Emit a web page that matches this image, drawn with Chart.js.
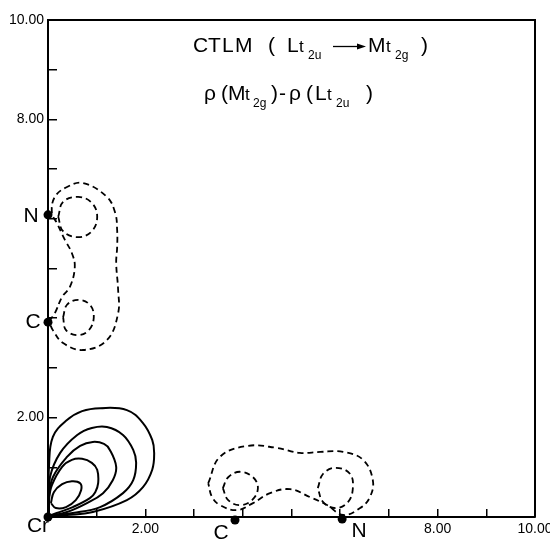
<!DOCTYPE html>
<html>
<head>
<meta charset="utf-8">
<script src="https://cdn.jsdelivr.net/npm/chart.js@4.4.1/dist/chart.umd.min.js"></script>
<style>
html, body { margin: 0; padding: 0; background: #fff; }
</style>
</head>
<body>
<canvas id="myChart" width="550" height="543"></canvas>
<script>
// tick values that get a printed label
var labelledTicks = [2, 8, 10];

// atoms (positions in plot units)
var atomNames = ['Cr', 'C', 'N', 'C', 'N'];
var atomX = [0, 0, 0, 3.84, 6.04];
var atomY = [0, 3.92, 6.08, -0.06, -0.04];

// solid contours around Cr (outer -> inner)
var solid1 = [[0.02,0.02],[0.02,0.40],[0.02,1.01],[0.10,1.61],[0.39,1.95],[0.70,2.13],[1.07,2.19],[1.62,2.15],[1.95,1.89],[2.14,1.55],[2.18,1.29],[2.14,0.95],[1.95,0.60],[1.62,0.34],[0.92,0.10],[0.39,0.04],[0.02,0.02]];
var solid2 = [[0.02,0.02],[0.02,0.28],[0.04,0.80],[0.25,1.29],[0.60,1.65],[0.90,1.79],[1.21,1.81],[1.54,1.65],[1.75,1.35],[1.81,1.09],[1.75,0.74],[1.54,0.48],[1.07,0.20],[0.51,0.08],[0.02,0.02]];
var solid3 = [[0.02,0.02],[0.02,0.40],[0.10,0.80],[0.39,1.21],[0.66,1.43],[0.92,1.51],[1.15,1.47],[1.27,1.35],[1.40,1.01],[1.33,0.74],[1.13,0.48],[0.80,0.28],[0.39,0.10],[0.02,0.02]];
var solid4 = [[0.02,0.02],[0.02,0.34],[0.08,0.64],[0.29,1.01],[0.49,1.15],[0.70,1.17],[0.90,1.09],[1.01,0.95],[1.03,0.68],[0.97,0.50],[0.86,0.38],[0.51,0.20],[0.18,0.08],[0.02,0.02]];
var solid5 = [[0.06,0.28],[0.12,0.50],[0.29,0.66],[0.49,0.72],[0.66,0.68],[0.68,0.54],[0.57,0.34],[0.37,0.20],[0.16,0.18],[0.06,0.28]];

// dashed contours along the y axis (C and N)
var dashYOuter = [[0.02,3.94],[0.14,4.10],[0.29,4.43],[0.45,4.63],[0.55,5.03],[0.49,5.31],[0.35,5.57],[0.18,5.92],[0.08,6.12],[0.14,6.44],[0.39,6.64],[0.72,6.72],[1.21,6.44],[1.38,6.12],[1.42,5.77],[1.42,5.43],[1.40,5.11],[1.44,4.57],[1.44,4.10],[1.21,3.56],[0.72,3.36],[0.31,3.50],[0.10,3.76],[0.02,3.94]];
var dashYN = [[0.21,6.04],[0.31,6.34],[0.62,6.44],[0.90,6.32],[1.01,6.04],[0.90,5.75],[0.62,5.63],[0.31,5.75],[0.21,6.04]];
var dashYC = [[0.31,4.02],[0.39,4.27],[0.62,4.37],[0.86,4.27],[0.94,4.02],[0.84,3.76],[0.62,3.66],[0.37,3.76],[0.31,4.02]];

// dashed contours along the x axis (C and N)
var dashXOuter = [[3.29,0.68],[3.53,1.21],[4.09,1.43],[4.70,1.39],[5.17,1.29],[5.59,1.31],[6.06,1.31],[6.47,1.15],[6.67,0.74],[6.61,0.40],[6.41,0.18],[6.06,0.04],[5.73,0.24],[5.38,0.40],[4.97,0.56],[4.56,0.48],[4.21,0.28],[3.88,0.14],[3.53,0.24],[3.37,0.40],[3.29,0.68]];
var dashXC = [[3.59,0.58],[3.70,0.80],[3.94,0.91],[4.21,0.80],[4.31,0.58],[4.19,0.34],[3.94,0.24],[3.70,0.34],[3.59,0.58]];
var dashXN = [[5.54,0.58],[5.65,0.87],[5.91,0.99],[6.20,0.87],[6.26,0.58],[6.16,0.30],[5.91,0.18],[5.65,0.30],[5.54,0.58]];

// pixel offsets of the atom labels from their dots
var atomLabelDx = [-10, -15, -17, -14, 17];
var atomLabelDy = [9, 0, 1, 13, 12];

var FONT = '"Liberation Sans", Arial, sans-serif';

function pts(arr) {
    return arr.map(function (p) { return { x: p[0], y: p[1] }; });
}

function contour(arr, dashed) {
    return {
        data: pts(arr),
        showLine: true,
        borderColor: '#000',
        borderWidth: dashed ? 1.8 : 2,
        borderDash: dashed ? [6, 4] : [],
        tension: 0.4,
        pointRadius: 0,
        fill: false
    };
}

var atomPoints = [];
for (let i = 0; i < atomNames.length; i++) {
    atomPoints.push({ x: atomX[i], y: atomY[i] });
}

// title tokens: [text, x, kind]   kind: n = normal, t = small t, s = subscript
var line1 = [['C',193,'n'],['T',208,'n'],['L',222,'n'],['M',235,'n'],['(',268,'n'],['L',287,'n'],['t',299,'t'],['2u',308,'s'],['M',368,'n'],['t',386,'t'],['2g',395,'s'],[')',421,'n']];
var line2 = [['\u03c1',204,'n'],['(',221,'n'],['M',228,'n'],['t',245,'t'],['2g',253,'s'],[')',271,'n'],['-',279,'n'],['\u03c1',289,'n'],['(',306,'n'],['L',315,'n'],['t',327,'t'],['2u',336,'s'],[')',366,'n']];

function drawTokens(ctx, tokens, baseY) {
    tokens.forEach(function (tk) {
        if (tk[2] === 's') {
            ctx.font = '12px ' + FONT;
            ctx.fillText(tk[0], tk[1], baseY + 7);
        } else if (tk[2] === 't') {
            ctx.font = '17px ' + FONT;
            ctx.fillText(tk[0], tk[1], baseY);
        } else {
            ctx.font = '21px ' + FONT;
            ctx.fillText(tk[0], tk[1], baseY);
        }
    });
}

var decorPlugin = {
    id: 'decor',
    afterDraw: function (chart) {
        var ctx = chart.ctx;
        var a = chart.chartArea;
        var xs = chart.scales.x, ys = chart.scales.y;
        ctx.save();
        // frame top + right
        ctx.strokeStyle = '#000';
        ctx.lineWidth = 2;
        ctx.beginPath();
        ctx.moveTo(a.left, a.top);
        ctx.lineTo(a.right, a.top);
        ctx.lineTo(a.right, a.bottom);
        ctx.stroke();

        // titles
        ctx.fillStyle = '#000';
        ctx.textAlign = 'left';
        ctx.textBaseline = 'alphabetic';
        drawTokens(ctx, line1, 52);
        drawTokens(ctx, line2, 100);
        // arrow in line 1
        ctx.lineWidth = 1.3;
        ctx.beginPath();
        ctx.moveTo(333, 46.5);
        ctx.lineTo(359, 46.5);
        ctx.stroke();
        ctx.beginPath();
        ctx.moveTo(366, 46.5);
        ctx.lineTo(357, 43.5);
        ctx.lineTo(357, 49.5);
        ctx.closePath();
        ctx.fill();

        // atom labels
        ctx.font = '21px ' + FONT;
        ctx.textAlign = 'center';
        ctx.textBaseline = 'middle';
        for (let i = 0; i < atomNames.length; i++) {
            var px = xs.getPixelForValue(atomX[i]) + atomLabelDx[i];
            var py = ys.getPixelForValue(atomY[i]) + atomLabelDy[i];
            ctx.fillText(atomNames[i], px, py);
        }
        ctx.restore();
    }
};

var tickFont = { family: FONT, size: 14 };

var ctx = document.getElementById('myChart');
var myChart = new Chart(ctx, {
    type: 'scatter',
    data: {
        datasets: [
            {
                data: atomPoints,
                pointRadius: 4.5,
                pointBackgroundColor: '#000',
                pointBorderColor: '#000',
                pointBorderWidth: 0,
                showLine: false,
                clip: false
            },
            contour(solid1, false),
            contour(solid2, false),
            contour(solid3, false),
            contour(solid4, false),
            contour(solid5, false),
            contour(dashYOuter, true),
            contour(dashYN, true),
            contour(dashYC, true),
            contour(dashXOuter, true),
            contour(dashXC, true),
            contour(dashXN, true)
        ]
    },
    options: {
        responsive: false,
        animation: false,
        devicePixelRatio: 1,
        layout: { padding: { top: 20, right: 15, left: 0, bottom: 0 } },
        plugins: {
            legend: { display: false },
            tooltip: { enabled: false }
        },
        scales: {
            x: {
                type: 'linear',
                min: 0,
                max: 10,
                ticks: {
                    stepSize: 1,
                    autoSkip: false,
                    maxRotation: 0,
                    padding: 12,
                    color: '#000',
                    font: tickFont,
                    callback: function (v) { return labelledTicks.indexOf(v) >= 0 ? v.toFixed(2) : ''; }
                },
                grid: { drawOnChartArea: false, drawTicks: true, tickLength: -8, color: '#000', lineWidth: 1.5 },
                border: { color: '#000', width: 2 },
                afterFit: function (s) { s.height = 26; s.paddingLeft = 0; s.paddingRight = 0; }
            },
            y: {
                type: 'linear',
                min: 0,
                max: 10,
                ticks: {
                    stepSize: 1,
                    autoSkip: false,
                    padding: 13,
                    color: '#000',
                    font: tickFont,
                    callback: function (v) { return labelledTicks.indexOf(v) >= 0 ? v.toFixed(2) : ''; }
                },
                grid: { drawOnChartArea: false, drawTicks: true, tickLength: -9, color: '#000', lineWidth: 1.5 },
                border: { color: '#000', width: 2 },
                afterFit: function (s) { s.width = 48; s.paddingTop = 0; s.paddingBottom = 0; }
            }
        }
    },
    plugins: [decorPlugin]
});
</script>
</body>
</html>
